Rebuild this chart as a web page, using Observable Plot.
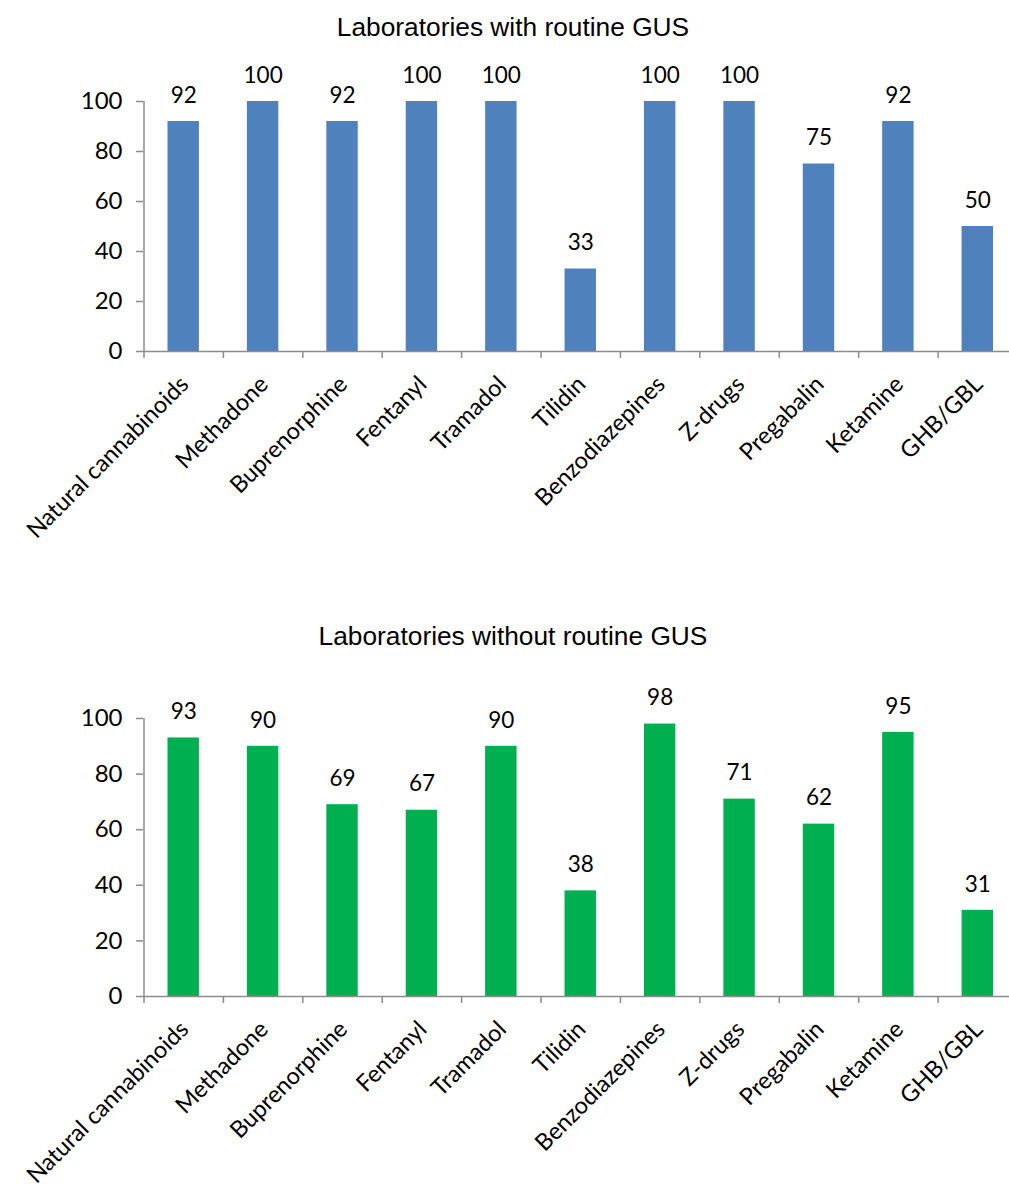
<!DOCTYPE html>
<html>
<head>
<meta charset="utf-8">
<script src="https://cdn.jsdelivr.net/npm/d3@7"></script>
<script src="https://cdn.jsdelivr.net/npm/@observablehq/plot@0.6"></script>
<style>
  html, body { margin: 0; padding: 0; background: #fff; overflow: hidden; }
  #root { position: relative; width: 1009px; height: 1190px; }
  .title { position: absolute; left: 17px; width: 992px; text-align: center;
           font-family: "Liberation Sans", Arial, sans-serif; font-size: 26.3px; color: #000; line-height: 30px; }
  .chart { position: absolute; left: 0; }
</style>
</head>
<body>
<div id="root">
  <div class="title" id="t1" style="top:12px"></div>
  <div class="chart" id="c1" style="top:50px"></div>
  <div class="title" id="t2" style="top:621px"></div>
  <div class="chart" id="c2" style="top:660px"></div>
</div>
<script>
const categories = ["Natural cannabinoids", "Methadone", "Buprenorphine", "Fentanyl", "Tramadol", "Tilidin", "Benzodiazepines", "Z-drugs", "Pregabalin", "Ketamine", "GHB/GBL"];
const withGUS = [92, 100, 92, 100, 100, 33, 100, 100, 75, 92, 50];
const withoutGUS = [93, 90, 69, 67, 90, 38, 98, 71, 62, 95, 31];
const yTicks = [0, 20, 40, 60, 80, 100];
const title1 = "Laboratories with routine GUS";
const title2 = "Laboratories without routine GUS";

const axisColor = "#8c8c8c";
const font = "Lato, 'Open Sans', sans-serif";
const xRange = [143.5, 1017];
const step = (xRange[1] - xRange[0]) / categories.length;

function makeChart(values, color, height, marginTop, marginBottom) {
  const data = categories.map((c, i) => ({cat: c, v: values[i]}));
  return Plot.plot({
    width: 1009,
    height,
    marginTop,
    marginBottom,
    marginLeft: 143,
    marginRight: 0,
    style: {fontFamily: font, background: "white", overflow: "visible"},
    x: {domain: categories, range: xRange, padding: 0, round: false, label: null},
    y: {domain: [0, 100], label: null},
    marks: [
      Plot.barY(data, {x: "cat", y: "v", fill: color, insetLeft: 24, insetRight: 24}),
      Plot.ruleY([0], {stroke: axisColor, strokeWidth: 1.5}),
      Plot.ruleX([categories[0]], {x: d => d, y1: 0, y2: 100, dx: -step / 2, stroke: axisColor, strokeWidth: 1.5}),
      Plot.axisX({tickSize: 7, tickFormat: () => "", dx: -step / 2, stroke: axisColor, strokeWidth: 1.5}),
      Plot.axisX({tickSize: 0, tickPadding: 29, tickRotate: -45, fontSize: 23.5, fill: "#000", dx: 1, textAnchor: "end"}),
      Plot.axisY({ticks: yTicks, tickSize: 7, tickPadding: 14, fontSize: 24, fill: "#000", stroke: axisColor, strokeWidth: 1.5}),
      Plot.text(data, {x: "cat", y: "v", text: d => String(d.v), dy: -26, fontSize: 22.5, fill: "#000"})
    ]
  });
}

document.getElementById("t1").textContent = title1;
document.getElementById("t2").textContent = title2;
document.getElementById("c1").appendChild(makeChart(withGUS, "#4F81BD", 500, 51, 199));
document.getElementById("c2").appendChild(makeChart(withoutGUS, "#00B050", 530, 58, 194));
</script>
</body>
</html>
